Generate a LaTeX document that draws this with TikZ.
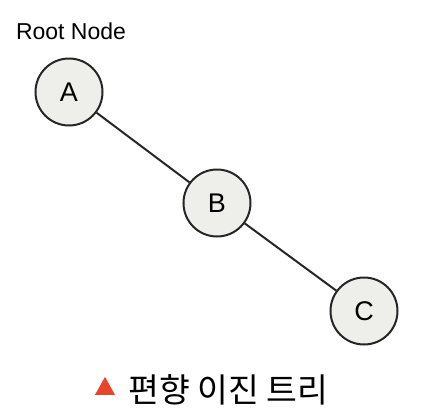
\documentclass[tikz,border=0pt]{standalone}
\usepackage{fontspec}
\usetikzlibrary{shapes.geometric}
\setmainfont{Liberation Sans}
\newfontfamily\kofont{Noto Sans CJK KR}
\definecolor{nodefill}{HTML}{EEEEEA}
\definecolor{tri}{HTML}{E8452C}
\begin{document}
\begin{tikzpicture}[x=1pt,y=-1pt,
  treenode/.style={circle,draw=black!85,line width=2pt,fill=nodefill,minimum size=67pt,inner sep=0pt,font=\fontsize{27}{30}\selectfont},
  edge/.style={line width=2pt,draw=black!85}]
\useasboundingbox (0,0) rectangle (448,418);
\node[treenode] (A) at (69,92) {A};
\node[treenode] (B) at (217,203) {B};
\node[treenode] (C) at (364,311) {C};
\draw[edge] (A) -- (B);
\draw[edge] (B) -- (C);
\node[font=\fontsize{23}{26}\selectfont,inner sep=0pt] (root) at (71,31) {Root Node};
\node[fill=tri,isosceles triangle,isosceles triangle stretches,shape border rotate=90,inner sep=0pt,minimum width=20pt,minimum height=18pt] (tri) at (105,389) {};
\node[font=\kofont\fontsize{33.5}{36}\selectfont,inner sep=0pt,anchor=west] (cap) at (128,390) {편향 이진 트리};
\end{tikzpicture}
\end{document}
